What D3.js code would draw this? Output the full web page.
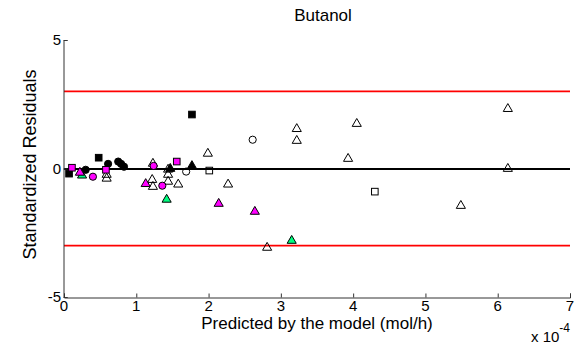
<!DOCTYPE html>
<html>
<head>
<meta charset="utf-8">
<script src="https://cdn.jsdelivr.net/npm/d3@7"></script>
<style>
  body { margin: 0; background: #fff; }
  text { font-family: "Liberation Sans", Arial, sans-serif; fill: #000; }
</style>
</head>
<body>
<svg id="chart" width="584" height="345"></svg>
<script>
// Predicted rate (x 1e-4 mol/h) and standardized residual per marker group
const openTriangles = [
  [0.59, -0.2], [0.59, -0.35], [1.23, 0.23], [1.22, -0.4], [1.23, -0.67],
  [1.44, 0.0], [1.44, -0.2], [1.44, -0.47], [1.58, -0.58], [1.99, 0.62],
  [2.27, -0.58], [2.81, -3.04], [3.22, 1.58], [3.22, 1.12], [3.93, 0.42],
  [4.05, 1.78], [5.49, -1.41], [6.14, 2.36], [6.14, 0.03]
];
const openCircles = [[1.69, -0.12], [2.61, 1.12]];
const openSquares = [[2.01, -0.08], [4.30, -0.9]];
const blackCircles = [[0.30, -0.05], [0.61, 0.18], [0.75, 0.27], [0.79, 0.18], [0.83, 0.07]];
const blackSquares = [[0.07, -0.2], [0.48, 0.42], [1.77, 2.1]];
const blackTriangles = [[1.47, 0.03], [1.77, 0.14]];
const magentaCircles = [[0.40, -0.32], [1.24, 0.1], [1.36, -0.67]];
const magentaSquares = [[0.11, 0.03], [0.58, -0.05], [1.56, 0.27]];
const greenTriangles = [[0.25, -0.23], [1.42, -1.17], [3.15, -2.77]];
const magentaTriangles = [[0.22, -0.12], [1.13, -0.56], [2.14, -1.33], [2.64, -1.64]];

const xTicks = [0, 1, 2, 3, 4, 5, 6, 7];
const yTicks = [-5, 0, 5];
const limitLines = [3, -3];

const svg = d3.select("#chart");
const plotLeft = 64, plotRight = 570, plotTop = 40, plotBottom = 297;

const x = d3.scaleLinear().domain([0, 7]).range([plotLeft, plotRight]);
const y = d3.scaleLinear().domain([-5, 5]).range([plotBottom, plotTop]);

// Limit lines at +/-3
svg.selectAll(".limit").data(limitLines).join("line")
  .attr("class", "limit")
  .attr("x1", plotLeft).attr("x2", plotRight)
  .attr("y1", d => y(d)).attr("y2", d => y(d))
  .attr("stroke", "#ff0000").attr("stroke-width", 1.6);

// Zero line
svg.append("line")
  .attr("x1", plotLeft).attr("x2", plotRight)
  .attr("y1", Math.round(y(0))).attr("y2", Math.round(y(0)))
  .attr("stroke", "#000").attr("stroke-width", 2);

// Axes with inward ticks
const xAxis = svg.append("g").attr("transform", `translate(0,${plotBottom + 0.5})`)
  .call(d3.axisTop(x).tickValues(xTicks).tickSize(4).tickFormat(""));
const yAxis = svg.append("g").attr("transform", `translate(${plotLeft - 0.5},0)`)
  .call(d3.axisRight(y).tickValues(yTicks).tickSize(4).tickFormat(""));
[xAxis, yAxis].forEach(g => {
  g.select(".domain").attr("stroke", "#333").attr("stroke-width", 1);
  g.selectAll(".tick line").attr("stroke", "#333");
});

// Tick labels
svg.selectAll(".xlab").data(xTicks).join("text")
  .attr("x", d => x(d)).attr("y", plotBottom + 14)
  .attr("text-anchor", "middle").attr("font-size", 15).text(d => d);
svg.selectAll(".ylab").data(yTicks).join("text")
  .attr("x", plotLeft - 3).attr("y", d => y(d) + 5)
  .attr("text-anchor", "end").attr("font-size", 15).text(d => d);

// Titles
svg.append("text").attr("x", 323).attr("y", 21).attr("text-anchor", "middle")
  .attr("font-size", 17).text("Butanol");
svg.append("text").attr("x", 317).attr("y", 329).attr("text-anchor", "middle")
  .attr("font-size", 17).text("Predicted by the model (mol/h)");
svg.append("text").attr("transform", `translate(36,${y(0) - 4}) rotate(-90)`)
  .attr("text-anchor", "middle").attr("font-size", 18)
  .text("Standardized Residuals");
const mult = svg.append("text").attr("x", 531).attr("y", 342).attr("font-size", 15);
mult.append("tspan").text("x 10");
mult.append("tspan").attr("dy", -10).attr("font-size", 12).text("-4");

// Markers
const tri = d3.symbol().type(d3.symbolTriangle).size(36);
function triangles(data, fill) {
  svg.append("g").selectAll("path").data(data).join("path")
    .attr("transform", d => `translate(${x(d[0])},${y(d[1]) + 1})`)
    .attr("d", tri)
    .attr("fill", fill).attr("stroke", "#000").attr("stroke-width", 1);
}
function squares(data, fill) {
  svg.append("g").selectAll("rect").data(data).join("rect")
    .attr("x", d => x(d[0]) - 3.3).attr("y", d => y(d[1]) - 3.3)
    .attr("width", 6.6).attr("height", 6.6)
    .attr("fill", fill).attr("stroke", "#000").attr("stroke-width", 1);
}
function circles(data, fill) {
  svg.append("g").selectAll("circle").data(data).join("circle")
    .attr("cx", d => x(d[0])).attr("cy", d => y(d[1])).attr("r", 3.6)
    .attr("fill", fill).attr("stroke", "#000").attr("stroke-width", 1);
}

triangles(openTriangles, "none");
circles(openCircles, "none");
squares(openSquares, "none");
circles(blackCircles, "#000");
squares(blackSquares, "#000");
triangles(blackTriangles, "#000");
circles(magentaCircles, "#ff00ff");
squares(magentaSquares, "#ff00ff");
triangles(greenTriangles, "#00ff80");
triangles(magentaTriangles, "#ff00ff");
</script>
</body>
</html>
